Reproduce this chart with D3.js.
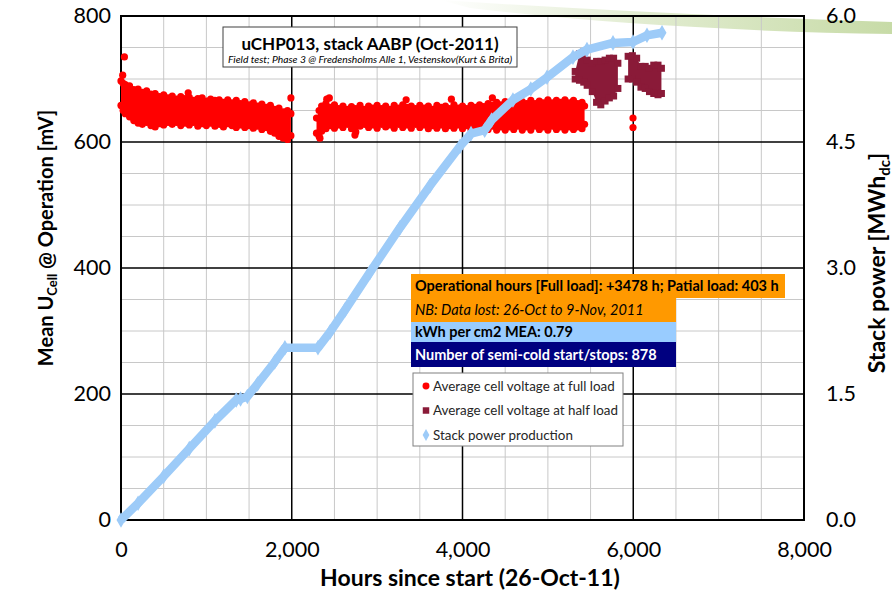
<!DOCTYPE html>
<html>
<head>
<meta charset="utf-8">
<style>
  body { margin: 0; background: #fff; }
  svg { font-family: Lato, "Open Sans", sans-serif; }
</style>
</head>
<body>
<svg id="chart" width="892" height="591"></svg>

<script src="https://d3js.org/d3.v7.min.js"></script>
<script>

// full load readings, per ~50 h window: [hours, lowest mV, highest mV]
let fullLoad = [
    [0, 658, 697], [25, 650, 693], [50, 645, 691], [100, 640, 689], [150, 634, 683],
    [200, 630, 684], [250, 628, 679], [300, 631, 681], [350, 626, 676], [400, 624, 677],
    [450, 629, 672], [500, 627, 675], [550, 631, 670], [600, 628, 673], [650, 631, 668],
    [700, 626, 672], [750, 630, 669], [800, 627, 671], [850, 631, 666], [900, 625, 669],
    [950, 629, 670], [1000, 626, 665], [1050, 630, 668], [1100, 625, 666], [1150, 628, 667],
    [1200, 624, 663], [1250, 629, 667], [1300, 626, 662], [1350, 623, 666], [1400, 627, 661],
    [1450, 623, 664], [1500, 626, 659], [1550, 622, 662], [1600, 625, 657], [1650, 620, 660],
    [1700, 623, 655], [1750, 617, 658], [1800, 614, 652], [1850, 609, 654], [1900, 606, 648],
    [1950, 604, 650], [1990, 610, 645],
    [2290, 614, 638], [2320, 609, 650], [2350, 617, 657], [2400, 621, 661], [2450, 626, 655],
    [2500, 622, 659], [2550, 627, 653], [2600, 623, 657], [2650, 628, 652], [2700, 621, 656],
    [2750, 616, 653], [2800, 625, 658], [2850, 628, 652], [2900, 623, 657], [2950, 627, 654],
    [3000, 622, 658], [3050, 628, 653], [3100, 624, 657], [3150, 627, 652], [3200, 622, 658],
    [3250, 628, 654], [3300, 623, 659], [3350, 627, 655], [3400, 622, 657], [3450, 628, 653],
    [3500, 623, 658], [3550, 627, 654], [3600, 621, 657], [3650, 626, 652], [3700, 622, 658],
    [3750, 627, 655], [3800, 621, 657], [3850, 626, 653], [3900, 622, 659], [3950, 627, 654],
    [4000, 621, 657], [4050, 626, 653], [4100, 620, 658], [4150, 625, 655], [4200, 621, 659],
    [4250, 626, 656], [4300, 620, 661], [4350, 625, 658], [4400, 619, 663], [4450, 624, 659],
    [4500, 619, 664], [4550, 624, 660], [4600, 620, 665], [4650, 625, 660], [4700, 619, 664],
    [4750, 624, 661], [4800, 619, 666], [4850, 625, 661], [4900, 620, 665], [4950, 624, 662],
    [5000, 619, 667], [5050, 625, 662], [5100, 620, 666], [5150, 624, 663], [5200, 619, 667],
    [5250, 624, 662], [5300, 620, 666], [5350, 624, 661], [5400, 621, 663], [5430, 628, 657]
]

// single full load readings outside the band: [hours, mV]
let fullLoadSingles = [
    [40, 735], [20, 706], [787, 678], [1990, 670], [2410, 668], [2440, 670],
    [2330, 606], [2740, 611], [3340, 667], [3870, 668], [4350, 670],
    [5997, 638], [5997, 623]
]

// half load readings, per ~50 h window: [hours, lowest mV, highest mV]
let halfLoad = [
    [5320, 700, 712], [5370, 698, 740], [5420, 695, 743], [5460, 690, 730], [5520, 680, 725],
    [5570, 663, 728], [5620, 659, 728], [5670, 665, 730], [5720, 670, 733], [5770, 673, 733],
    [5820, 685, 725],
    [5940, 700, 736], [5990, 700, 737], [6040, 695, 733], [6090, 687, 720], [6140, 685, 720],
    [6190, 680, 717], [6240, 677, 722], [6290, 675, 722], [6330, 677, 717]
]

// cumulative stack power: [hours, MWh dc]
let stackPower = [
    [0, 0], [200, 0.2], [500, 0.52], [800, 0.85], [1100, 1.18], [1350, 1.43], [1400, 1.44],
    [1480, 1.47], [1600, 1.62], [1800, 1.88], [1920, 2.05], [2307, 2.05], [2450, 2.24],
    [2624, 2.5], [2917, 2.95], [3268, 3.48], [3619, 3.98], [3971, 4.45], [4100, 4.6],
    [4260, 4.64], [4340, 4.76], [4591, 5.0], [4800, 5.13], [4990, 5.27], [5294, 5.51],
    [5458, 5.6], [5763, 5.68], [5997, 5.69], [6161, 5.77], [6337, 5.8]
]

let xTicks = [0, 2000, 4000, 6000, 8000]
let yTicks = [0, 200, 400, 600, 800]
let y2Ticks = [0, 1.5, 3.0, 4.5, 6.0]

let infoLines = [
    "Operational hours [Full load]: +3478 h; Patial load: 403 h",
    "NB: Data lost: 26-Oct to 9-Nov, 2011",
    "kWh per cm2 MEA: 0.79",
    "Number of semi-cold start/stops: 878"
]
let legendNames = [
    "Average cell voltage at full load",
    "Average cell voltage at half load",
    "Stack power production"
]

let red = "#ff0000"
let darkRed = "#8a1a38"
let blue = "#9dcbf8"

let svg = d3.select("#chart")

let x = d3.scaleLinear().domain([0, 8000]).range([121, 804])
let y = d3.scaleLinear().domain([0, 800]).range([520, 16])
let y2 = d3.scaleLinear().domain([0, 6]).range([520, 16])

// decorative green swoosh behind the chart
let grad = svg.append("defs").append("linearGradient").attr("id", "swoosh")
grad.append("stop").attr("offset", "0%").attr("stop-color", "#c9dcaa").attr("stop-opacity", 0)
grad.append("stop").attr("offset", "45%").attr("stop-color", "#c9dcaa").attr("stop-opacity", 0.55)
grad.append("stop").attr("offset", "100%").attr("stop-color", "#c4d9a2").attr("stop-opacity", 0.95)
svg.append("path")
    .attr("d", "M440,0 Q650,14 892,22 L892,34 Q650,30 470,8 Z")
    .attr("fill", "url(#swoosh)")

// grid
let grid = svg.append("g")
grid.selectAll(".vx").data(x.ticks(16).filter(d => d % 2000 != 0))
    .enter().append("line")
    .attr("x1", d => x(d)).attr("x2", d => x(d)).attr("y1", 16).attr("y2", 520)
    .attr("stroke", "#c8c8c8").attr("stroke-width", 1)
grid.selectAll(".hy").data(y.ticks(16).filter(d => d % 200 != 0))
    .enter().append("line")
    .attr("x1", 121).attr("x2", 804).attr("y1", d => y(d)).attr("y2", d => y(d))
    .attr("stroke", "#c8c8c8").attr("stroke-width", 1)
grid.selectAll(".vX").data(xTicks.slice(1, -1))
    .enter().append("line")
    .attr("x1", d => x(d)).attr("x2", d => x(d)).attr("y1", 16).attr("y2", 520)
    .attr("stroke", "#000").attr("stroke-width", 1.5)
grid.selectAll(".hY").data(yTicks.slice(1, -1))
    .enter().append("line")
    .attr("x1", 121).attr("x2", 804).attr("y1", d => y(d)).attr("y2", d => y(d))
    .attr("stroke", "#000").attr("stroke-width", 1.5)
svg.append("rect")
    .attr("x", 121).attr("y", 16).attr("width", 683).attr("height", 504)
    .attr("fill", "none").attr("stroke", "#000").attr("stroke-width", 2)

// axes
let fmtX = d3.format(",")
let xAxis = svg.append("g").attr("transform", "translate(0,520)")
    .call(d3.axisBottom(x).tickValues(xTicks).tickFormat(fmtX).tickSize(0).tickPadding(22))
let yAxis = svg.append("g").attr("transform", "translate(121,0)")
    .call(d3.axisLeft(y).tickValues(yTicks).tickSize(0).tickPadding(10))
let y2Axis = svg.append("g").attr("transform", "translate(804,0)")
    .call(d3.axisRight(y2).tickValues(y2Ticks).tickFormat(d3.format(".1f")).tickSize(0).tickPadding(22))
for (let a of [xAxis, yAxis, y2Axis]) {
    a.select(".domain").remove()
    a.selectAll("text").attr("font-family", "Lato, sans-serif").attr("font-size", 21.5).attr("fill", "#000")
}

function splitRuns(rows, gap) {
    let runs = [[rows[0]]]
    for (let i = 1; i < rows.length; i++) {
        if (rows[i][0] - rows[i - 1][0] > gap) runs.push([])
        runs[runs.length - 1].push(rows[i])
    }
    return runs
}

let band = d3.area()
    .x(d => x(d[0]))
    .y0(d => y(d[1]))
    .y1(d => y(d[2]))

// full load (red dots)
let full = svg.append("g")
full.selectAll("path").data(splitRuns(fullLoad, 150))
    .enter().append("path")
    .attr("d", band).attr("fill", red)
full.selectAll(".lo").data(fullLoad).enter().append("circle")
    .attr("cx", d => x(d[0])).attr("cy", d => y(d[1])).attr("r", 3.6).attr("fill", red)
full.selectAll(".hi").data(fullLoad).enter().append("circle")
    .attr("cx", d => x(d[0])).attr("cy", d => y(d[2])).attr("r", 3.6).attr("fill", red)
full.selectAll(".one").data(fullLoadSingles).enter().append("circle")
    .attr("cx", d => x(d[0])).attr("cy", d => y(d[1])).attr("r", 3.6).attr("fill", red)

// half load (dark red squares)
let half = svg.append("g")
half.selectAll("path").data(splitRuns(halfLoad, 100))
    .enter().append("path")
    .attr("d", band).attr("fill", darkRed)
for (let k of [1, 2]) {
    half.selectAll(".sq" + k).data(halfLoad).enter().append("rect")
        .attr("x", d => x(d[0]) - 3.5).attr("y", d => y(d[k]) - 3.5)
        .attr("width", 7).attr("height", 7).attr("fill", darkRed)
}

// stack power (blue diamonds, secondary axis)
let powerLine = d3.line().x(d => x(d[0])).y(d => y2(d[1]))
svg.append("path")
    .attr("d", powerLine(stackPower))
    .attr("fill", "none").attr("stroke", blue).attr("stroke-width", 8.5)
    .attr("stroke-linejoin", "round")
svg.selectAll(".dia").data(stackPower).enter().append("path")
    .attr("transform", d => `translate(${x(d[0])},${y2(d[1])})`)
    .attr("d", d3.symbol(d3.symbolDiamond, 70))
    .attr("fill", blue)

// title box
svg.append("rect").attr("x", 223).attr("y", 27).attr("width", 294).attr("height", 40)
    .attr("fill", "#fff").attr("stroke", "#404040").attr("stroke-width", 1)
svg.append("text").attr("x", 370).attr("y", 50).attr("text-anchor", "middle")
    .attr("font-size", 17).attr("font-weight", "bold")
    .text("uCHP013, stack AABP (Oct-2011)")
svg.append("text").attr("x", 370).attr("y", 63).attr("text-anchor", "middle")
    .attr("font-size", 10.3).attr("font-style", "italic")
    .text("Field test; Phase 3 @ Fredensholms Alle 1, Vestenskov(Kurt & Brita)")

// info boxes
let boxes = [
    { x: 411, y: 274, w: 374, h: 24, fill: "#ff9900", color: "#000", italic: false },
    { x: 411, y: 298, w: 265, h: 24, fill: "#ff9900", color: "#000", italic: true },
    { x: 411, y: 322, w: 265, h: 20, fill: "#99ccff", color: "#000", italic: false },
    { x: 411, y: 342, w: 265, h: 25, fill: "#000080", color: "#fff", italic: false }
]
boxes.forEach((b, i) => {
    svg.append("rect").attr("x", b.x).attr("y", b.y).attr("width", b.w).attr("height", b.h)
        .attr("fill", b.fill)
    svg.append("text").attr("x", 415).attr("y", b.y + b.h / 2 + 5)
        .attr("font-size", 14.5)
        .attr("font-weight", b.italic ? "normal" : "bold")
        .attr("font-style", b.italic ? "italic" : "normal")
        .attr("fill", b.color)
        .text(infoLines[i])
})

// legend
let legend = svg.append("g")
legend.append("rect").attr("x", 413).attr("y", 373).attr("width", 210).attr("height", 73)
    .attr("fill", "#fff").attr("stroke", "#808080").attr("stroke-width", 1)
let markers = [
    d3.symbol(d3.symbolCircle, 38)(),
    d3.symbol(d3.symbolSquare, 42)(),
    d3.symbol(d3.symbolDiamond, 40)()
]
let markerFill = [red, darkRed, blue]
legendNames.forEach((name, i) => {
    let ly = 386 + i * 24.5
    legend.append("path").attr("d", markers[i])
        .attr("transform", `translate(426,${ly})`).attr("fill", markerFill[i])
    legend.append("text").attr("x", 433).attr("y", ly + 4.8)
        .attr("font-size", 13.4).attr("fill", "#262626").text(name)
})

// axis titles
svg.append("text").attr("x", 470).attr("y", 586).attr("text-anchor", "middle")
    .attr("font-size", 23).attr("font-weight", "bold")
    .text("Hours since start (26-Oct-11)")

let yl = svg.append("text").attr("transform", "translate(53,238) rotate(-90)")
    .attr("text-anchor", "middle").attr("font-size", 20).attr("font-weight", "bold")
yl.append("tspan").text("Mean U")
yl.append("tspan").attr("font-size", 13).attr("dy", 4).text("Cell")
yl.append("tspan").attr("dy", -4).text(" @ Operation [mV]")

let yr = svg.append("text").attr("transform", "translate(885,263) rotate(-90)")
    .attr("text-anchor", "middle").attr("font-size", 23).attr("font-weight", "bold")
yr.append("tspan").text("Stack power [MWh")
yr.append("tspan").attr("font-size", 15).attr("dy", 5).text("dc")
yr.append("tspan").attr("dy", -5).text("]")

</script>
</body>
</html>
